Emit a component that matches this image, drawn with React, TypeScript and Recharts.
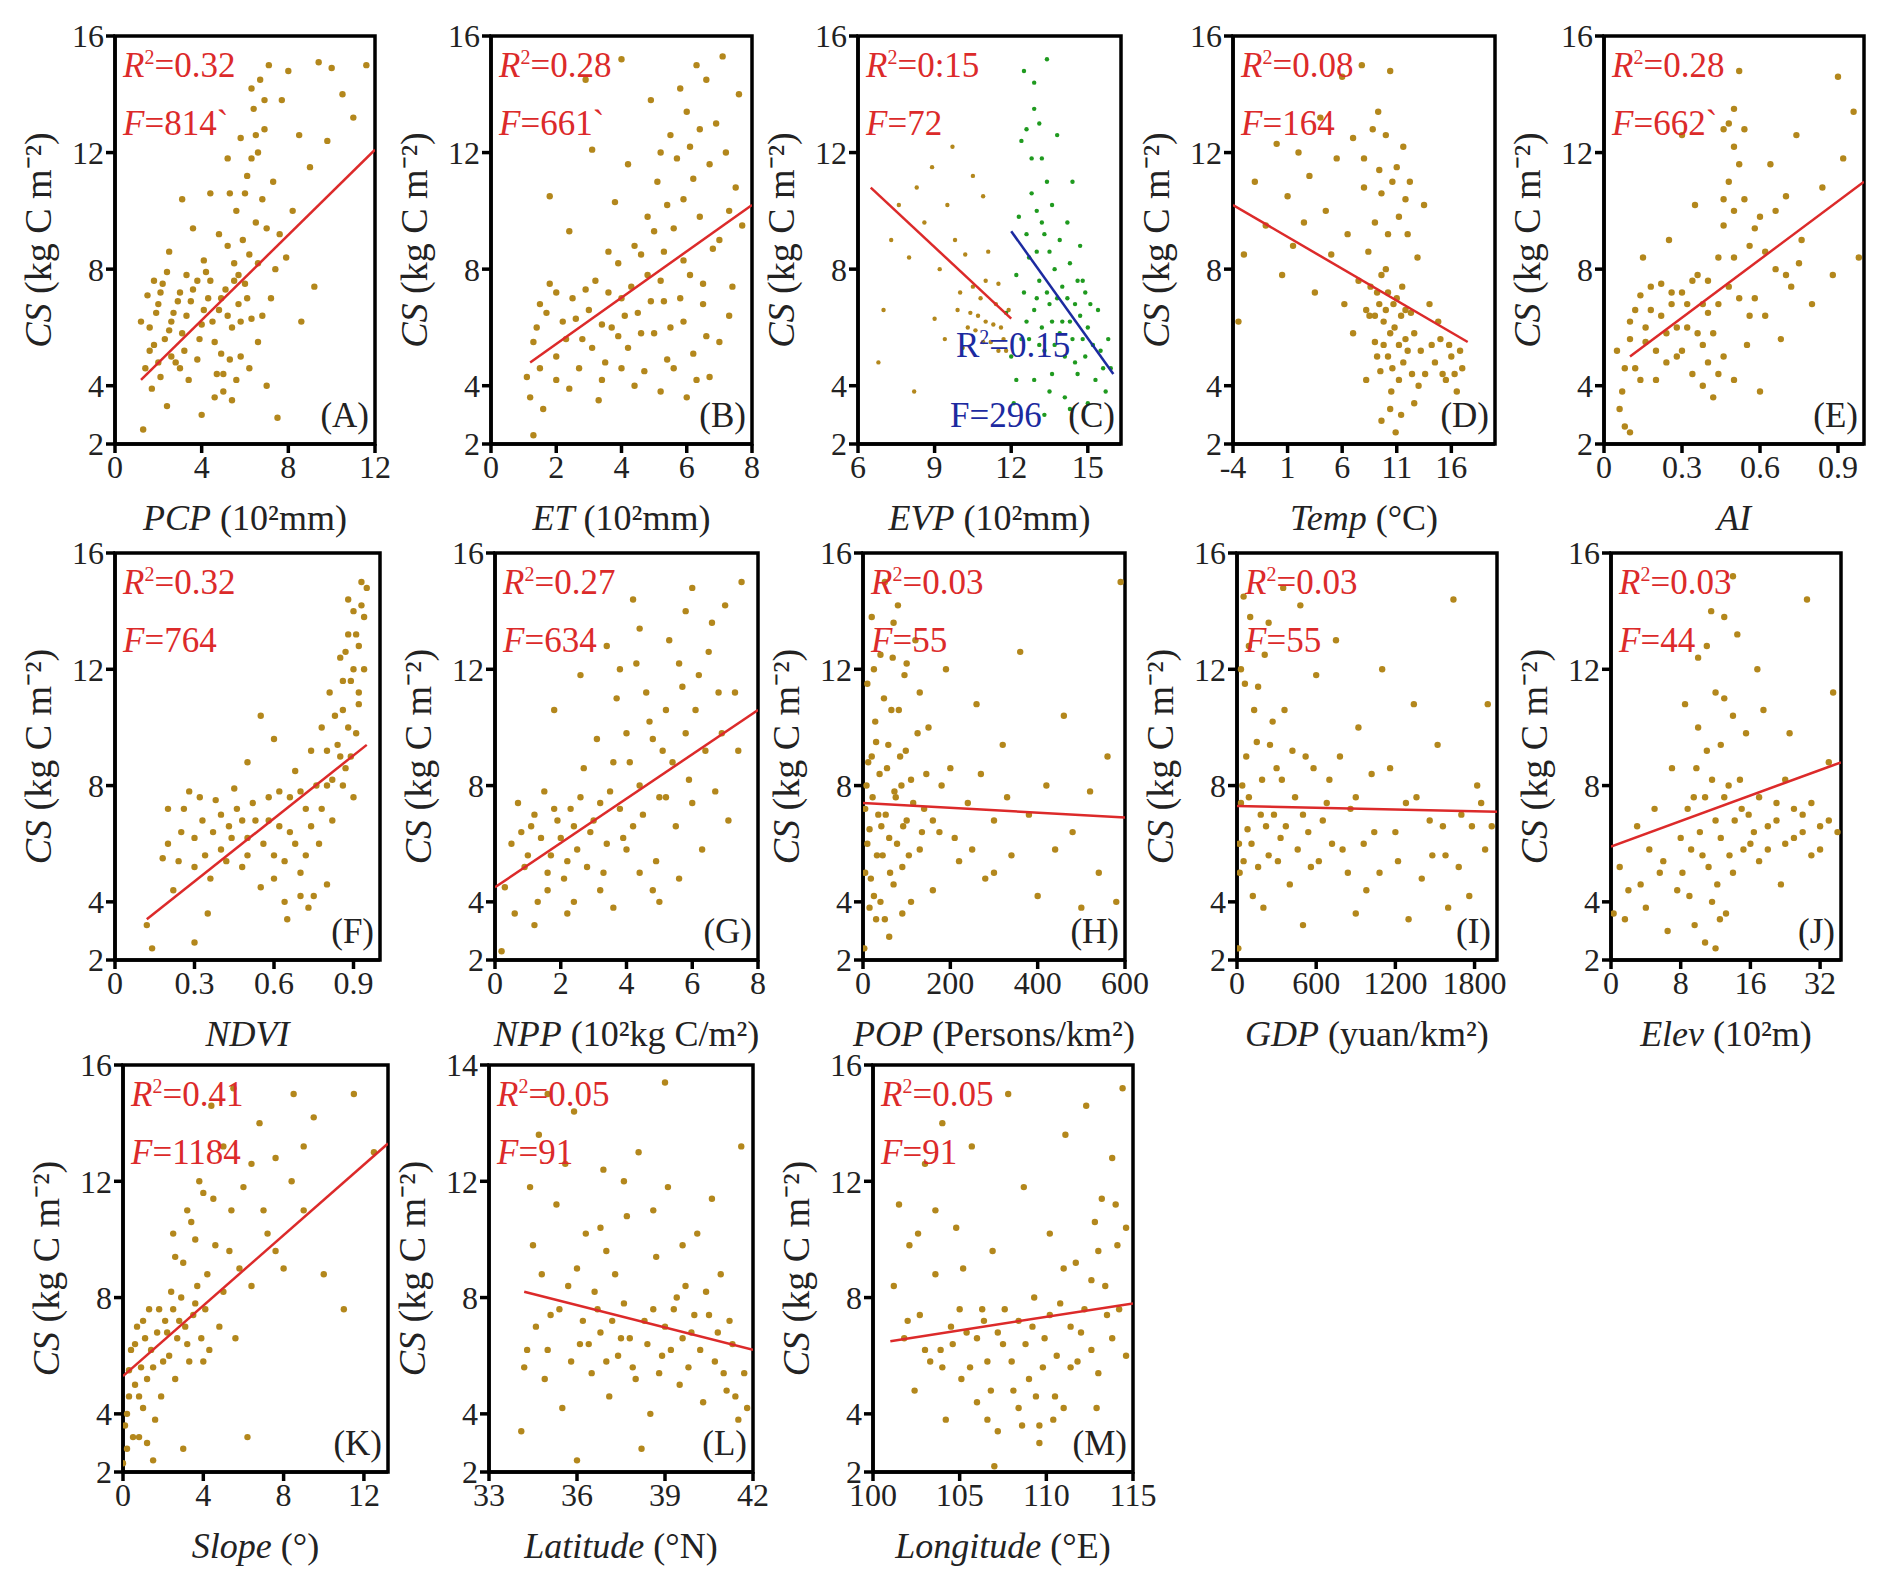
import React from "react";
import { ScatterChart, Scatter, XAxis, YAxis, ReferenceArea, Label } from "recharts";

type P = [number, number];

const dataA: P[] = [[1.2,6.2],[1.5,7.1],[1.8,5.4],[2,6.8],[2.2,7.5],[2.5,5.9],[2.7,6.5],[3,7.2],[3.2,5.2],[3.5,6.9],[3.8,7.6],[4,6.1],[4.3,7],[4.6,5.5],[4.8,6.6],[5.1,7.3],[5.4,6],[5.7,6.8],[6,7.5],[6.3,6.3],[1.4,4.6],[1.7,3.9],[2.1,4.3],[2.4,3.3],[1.3,2.5],[2.8,4.8],[3.4,4.2],[4.7,4.4],[5,3.8],[5.3,4.9],[5.6,4.2],[4.9,5.1],[6.2,4.6],[6.6,5.5],[7,4],[6.8,6.4],[7.2,7],[5.5,8.2],[5.9,9],[6.2,8.5],[6.5,9.6],[6.8,10.4],[6.1,11.2],[6.6,12],[6.9,12.8],[6.4,13.5],[6.7,14.5],[7.1,15],[7.3,11],[7.6,9.2],[7.9,8.4],[8.2,10],[8.5,12.6],[7.7,13.8],[8,14.8],[9.4,15.1],[10,14.9],[10.5,14],[11,13.2],[11.6,15],[9,11.5],[9.8,12.4],[3.1,10.4],[3.6,9.4],[4.1,8.3],[2.5,8.6],[4.4,10.6],[5.2,11.8],[5.8,12.5],[8.6,6.2],[9.2,7.4],[4,3],[7.5,2.9]];
const coreA: P[] = [[1.6,6],[1.9,6.5],[2.1,7.2],[2.3,5.6],[2.6,6.2],[2.9,6.9],[3.1,5.8],[3.3,6.4],[3.6,7.3],[3.9,5.6],[4.1,6.6],[4.4,7.6],[4.5,6.2],[4.9,7],[5.2,6.4],[5.5,7.6],[5.8,6.2],[6.1,7],[1.6,5.2],[2,4.8],[2.6,5],[3,4.6],[3.8,4.9],[4.6,3.6],[5,4.4],[5.4,3.5],[5.8,5],[5.2,8.8],[5.6,10],[6,10.6],[6.3,11.8],[6.5,12.6],[6.9,13.8],[6.3,14.2],[7,9.4],[7.4,8],[6.6,8.2],[5.7,7.8],[4.2,7.9],[3.3,7.8],[2.4,7.9],[1.8,7.6],[4.8,9.2],[5.3,10.6]];
const dataB: P[] = [[1.1,4.3],[1.3,5.5],[1.5,6.8],[1.8,7.5],[2,5],[2.2,6.2],[2.5,7],[2.8,5.6],[3,6.6],[3.2,7.6],[3.5,4.8],[3.7,6],[4,7],[4.2,5.3],[4.5,6.5],[4.8,7.8],[5,5.8],[5.3,6.9],[5.6,4.6],[5.9,6.2],[6.2,5.1],[6.5,6.8],[1.2,3.6],[1.6,3.2],[1.3,2.3],[2.4,3.9],[3.3,3.5],[4.4,4],[5.2,3.8],[6,3.6],[6.7,4.3],[7,5.5],[7.3,6.4],[4.6,8.5],[5,9.3],[5.4,10.2],[5.1,11],[5.7,11.8],[5.5,12.6],[6,13.4],[5.8,14.2],[6.3,15],[6.6,14.5],[6.9,13],[7.2,12],[7.5,10.8],[7.7,9.5],[6.4,9.8],[6.8,8.7],[7.1,15.3],[7.6,14],[4.9,13.8],[3.8,10.3],[4.2,11.6],[3.1,12.1],[1.8,10.5],[2.4,9.3],[3.6,8.6],[6.2,11.1],[5.9,8.3],[7.4,7.4],[2.9,14.5],[4,15.2]];
const coreB: P[] = [[1.4,6],[1.7,6.5],[2,7.2],[2.3,5.6],[2.6,6.3],[2.9,7.3],[3.1,5.3],[3.4,6.1],[3.6,7.2],[3.9,5.7],[4.1,6.4],[4.3,7.4],[4.6,5.8],[4.9,6.9],[5.2,7.6],[5.5,6],[5.8,7],[6.1,7.8],[1.5,4.6],[2,4.2],[2.7,4.6],[3.4,4.2],[4,4.6],[4.7,4.5],[5.4,4.9],[6.3,4.2],[6.6,5.7],[5.3,8.6],[5.6,9.4],[5.9,10.4],[6.1,12.2],[6.4,12.8],[6.7,11.6],[5.2,12],[6.5,7.5],[7,9],[7.3,10],[4.8,9.8],[4.4,8.8],[3.9,8.2]];
const dataCb: P[] = [[7,6.6],[7.3,9],[7.6,10.2],[8,8.4],[8.3,10.8],[8.6,9.6],[8.9,11.5],[9.2,8],[9.5,10.2],[9.8,9],[10,7.2],[10.2,8.5],[10.4,6.5],[10.6,5.9],[10.8,7],[11,6.2],[11.2,5.5],[11.4,6.8],[11.6,6],[11.8,5.2],[10.5,11.2],[9,6.3],[8.2,3.8],[6.8,4.8],[9.7,12.2],[10.9,10.5],[11.1,8.6],[9.4,5.6],[10.1,5.3],[11.5,7.5]];
const coreCb: P[] = [[10.3,6],[10.7,6.4],[11.3,6.1],[11.7,5.6],[10.9,5.5],[11.5,5.2],[10.5,7.4],[11,7.6],[9.9,6.6],[11.9,6.6]];
const dataCg: P[] = [[11.8,6.5],[12,5],[12.2,7.8],[12.3,9.8],[12.4,12.4],[12.5,14.8],[12.6,6.2],[12.7,8.4],[12.8,10.6],[12.9,13.5],[13,7],[13.1,5.4],[13.2,11.8],[13.3,9.2],[13.4,15.2],[13.5,6.8],[13.6,4.4],[13.7,8],[13.8,12.6],[13.9,5.8],[14,7.4],[14.1,3.6],[14.2,9.6],[14.3,6.2],[14.5,4.8],[14.6,7.6],[14.8,5.6],[15,3.4],[15.1,6.8],[15.3,4.2],[15.5,5.2],[15.7,3.8],[15.9,4.6],[12.1,3.4],[13.3,3],[14.4,11],[14.7,8.8],[12.9,4.2],[13.6,10.2],[14.9,7.2]];
const coreCg: P[] = [[12.5,7.2],[12.7,5.6],[12.9,6.6],[13,8.6],[13.1,7.6],[13.2,6],[13.3,5.2],[13.4,7.2],[13.5,8.6],[13.6,6.2],[13.7,5.4],[13.8,7],[13.9,9],[14,6.2],[14.1,5],[14.2,7],[14.3,8.2],[14.4,5.6],[14.5,6.8],[14.6,4.4],[14.7,6.4],[14.8,7.6],[14.9,5],[15,6],[15.2,5.4],[15.4,6.6],[15.6,4.6],[15.8,5.6],[13,10],[12.8,11.8],[13.1,13],[12.6,12.8],[13.4,11],[12.9,14.4],[13.2,9.6],[12.2,4.2],[13.5,3.8],[14.3,3.2],[12.4,5.6],[12.6,9.2]];
const dataD: P[] = [[-3.5,6.2],[-3,8.5],[-2,11],[-1,9.5],[0,12.3],[0.5,7.8],[1,10.5],[1.5,8.8],[2,12],[2.5,9.6],[3,11.2],[3.5,7.2],[4,13.2],[4.5,10],[5,8.5],[5.5,11.8],[6,14.6],[6.5,9.2],[7,12.5],[7.5,7.6],[8,10.8],[8.5,6.4],[9,5.5],[9.2,7.2],[9.5,4.5],[9.8,6.2],[10,8],[10.2,5],[10.5,3.8],[10.7,6.8],[11,11.5],[11.2,4.2],[11.5,7.4],[11.8,5.6],[12,9.2],[12.3,6.5],[12.6,3.4],[12.9,8.4],[13.2,5.2],[13.5,10.2],[14,6.8],[14.5,4.8],[15,5.6],[15.5,4.2],[16,5],[16.5,3.8],[17,4.6],[9.3,13.4],[10.4,14.8],[8.8,12.8],[11.6,12.2],[7.8,15],[9.6,2.8],[10.9,2.4],[8.2,4.2],[7,5.8],[6.2,6.8],[12.2,11]];
const coreD: P[] = [[8.2,6.6],[8.6,7.4],[9,6.4],[9.2,5],[9.4,6.8],[9.6,7.8],[9.8,5.4],[10,6.6],[10.2,7.2],[10.4,5.8],[10.6,4.6],[10.8,6],[11,7],[11.2,5.4],[11.4,6.4],[11.6,4.8],[11.8,6.6],[12,5.2],[12.4,4.4],[12.6,5.8],[8.4,8.6],[9,9.6],[9.6,10.6],[10.2,9.2],[10.6,11],[11.2,9.8],[11.8,10.4],[10,12.6],[9.4,11.4],[8,11.8],[15.2,4.4],[15.8,5.4],[16.3,4.4],[16.8,5.2],[14.8,6.2],[14.2,5.4],[13.6,4.4],[13,4],[10.4,3.2],[11.4,3]];
const dataE: P[] = [[0.05,5.2],[0.07,3.8],[0.08,2.6],[0.1,6.2],[0.12,4.6],[0.14,7.1],[0.16,5.5],[0.18,6.6],[0.2,4.2],[0.22,7.5],[0.24,5.8],[0.26,6.8],[0.28,5],[0.3,7.2],[0.32,6],[0.34,4.4],[0.36,7.8],[0.38,5.4],[0.4,6.5],[0.42,3.6],[0.44,8.4],[0.46,9.5],[0.48,11],[0.5,12.2],[0.5,13.5],[0.52,14.8],[0.54,10.4],[0.46,12.8],[0.56,8.8],[0.58,7],[0.6,9.8],[0.62,6.4],[0.64,11.6],[0.66,8],[0.68,5.6],[0.7,10.5],[0.72,7.4],[0.74,12.6],[0.76,9],[0.8,6.8],[0.84,10.8],[0.88,7.8],[0.92,11.8],[0.96,13.4],[0.98,8.4],[0.9,14.6],[0.35,10.2],[0.3,12.6],[0.25,9],[0.15,8.4],[0.4,4.8],[0.5,4.2],[0.55,5.4],[0.6,3.8]];
const coreE: P[] = [[0.08,4.6],[0.1,5.6],[0.12,6.6],[0.14,4.2],[0.16,6],[0.18,7.4],[0.2,5.2],[0.22,6.4],[0.24,4.8],[0.26,7.2],[0.28,6],[0.3,5.2],[0.32,6.8],[0.34,7.6],[0.36,5.8],[0.38,6.8],[0.4,7.6],[0.42,5.8],[0.44,6.8],[0.46,5],[0.48,7.4],[0.5,8.4],[0.5,10],[0.52,11.6],[0.48,13],[0.54,12.8],[0.46,10.4],[0.52,7],[0.44,4.4],[0.38,4],[0.56,6.4],[0.58,9.4],[0.62,8.6],[0.66,10],[0.7,7.8],[0.75,8.2],[0.06,3.2],[0.1,2.4]];
const dataF: P[] = [[0.12,3.2],[0.14,2.4],[0.18,5.5],[0.2,7.2],[0.22,4.4],[0.25,6.4],[0.28,7.8],[0.3,5.2],[0.33,6.8],[0.36,4.8],[0.38,7.5],[0.4,5.8],[0.43,6.6],[0.45,7.9],[0.48,5.2],[0.5,6.2],[0.52,7.4],[0.55,4.5],[0.58,6.8],[0.6,5.6],[0.62,7.8],[0.64,4],[0.66,6.4],[0.68,8.5],[0.7,5],[0.72,7.2],[0.74,9.2],[0.75,4.2],[0.77,6],[0.78,10],[0.8,8],[0.81,11.2],[0.82,6.8],[0.84,9.4],[0.85,12.4],[0.86,10.6],[0.87,8.6],[0.88,13.2],[0.89,11.6],[0.9,14],[0.91,9.8],[0.92,12.8],[0.93,15],[0.94,13.8],[0.92,10.8],[0.9,7.6],[0.6,9.6],[0.5,8.8],[0.35,3.6],[0.65,3.4],[0.55,10.4],[0.8,4.6],[0.3,2.6]];
const coreF: P[] = [[0.2,6],[0.24,5.4],[0.26,7.2],[0.3,6.2],[0.32,7.6],[0.34,5.6],[0.37,6.4],[0.4,7],[0.42,5.4],[0.44,6.2],[0.46,7.2],[0.48,6.8],[0.5,5.6],[0.53,6.8],[0.56,6],[0.58,7.6],[0.6,4.8],[0.62,6.6],[0.64,5.4],[0.66,7.6],[0.68,6],[0.7,7.8],[0.72,5.6],[0.74,6.6],[0.76,8],[0.78,7.2],[0.8,9.2],[0.82,8.2],[0.83,10.4],[0.85,9],[0.86,11.6],[0.87,12.6],[0.88,10],[0.89,9],[0.9,12],[0.91,13.2],[0.92,11.2],[0.93,14.2],[0.94,12],[0.95,14.8],[0.88,14.4],[0.86,8],[0.7,4.2],[0.73,3.8]];
const dataG: P[] = [[0.2,2.3],[0.3,4.5],[0.5,6],[0.7,7.4],[0.9,5.2],[1.1,6.6],[1.3,4],[1.5,7.8],[1.7,5.6],[1.9,6.8],[2.1,4.8],[2.3,7.2],[2.5,5.8],[2.7,8.6],[2.9,6.4],[3.1,9.6],[3.3,5],[3.5,7.8],[3.7,11],[3.9,6.2],[4.1,8.8],[4.3,12.2],[4.5,7],[4.7,10.2],[4.9,5.4],[5.1,9.2],[5.3,13],[5.5,6.6],[5.7,11.4],[5.9,8.2],[6.1,10.6],[6.3,5.8],[6.5,12.6],[6.7,7.8],[6.9,9.8],[7.1,6.8],[7.3,11.2],[7.5,15],[7,14.2],[6,14.8],[4.2,14.4],[3.4,12.8],[2.6,11.8],[1.8,10.6],[1.2,3.2],[2.2,3.6],[3.6,3.8],[4.8,4.4],[5.6,4.8],[0.6,3.6],[4,5.8],[5.2,7.6]];
const coreG: P[] = [[0.8,6.4],[1,5.6],[1.2,7],[1.4,6.2],[1.6,5],[1.8,7.2],[2,6.2],[2.2,5.4],[2.4,6.6],[2.6,7.6],[2.8,5.2],[3,6.8],[3.2,7.4],[3.4,6],[3.6,8.8],[3.8,7.2],[4,9.8],[4.2,6.6],[4.4,8],[4.6,11.2],[4.8,9.6],[5,7.6],[5.2,10.6],[5.4,8.8],[5.6,12.2],[5.8,9.8],[6,7.4],[6.2,11.8],[6.4,9.2],[6.6,13.6],[3.2,4.4],[2.4,4],[1.6,4.4],[4.4,5],[5,4],[3.8,12],[4.4,13.4],[5.8,14],[6.8,11.2],[7.4,9.2]];
const dataH: P[] = [[3,2.4],[5,5],[8,8],[10,11.5],[15,6.5],[20,13.8],[25,4.2],[30,9.5],[35,7],[40,12.5],[45,5.6],[50,15],[55,8.6],[60,6.2],[65,10.6],[70,4.6],[75,7.6],[80,14.2],[85,9],[90,5.2],[95,11.8],[100,6.8],[110,8.2],[120,13],[130,5.8],[140,7.2],[150,10],[160,4.4],[175,6.4],[190,12],[200,8.6],[220,5.4],[240,7.4],[260,10.8],[280,4.8],[300,6.8],[320,9.4],[340,5.6],[360,12.6],[380,7],[400,4.2],[420,8],[440,5.8],[460,10.4],[480,6.4],[500,3.8],[520,7.8],[540,5],[560,9],[580,4],[590,15],[30,3.4],[60,2.8],[130,11.2],[110,4]];
const coreH: P[] = [[5,7.2],[10,6],[12,8.8],[18,4.8],[22,7.6],[28,10.2],[32,5.6],[38,8.4],[42,6.6],[48,11],[52,7],[58,9.4],[62,5],[68,12.4],[72,7.8],[78,6],[82,10.6],[88,8],[92,6.6],[98,9.2],[105,5.6],[115,7.4],[125,9.8],[135,6.4],[145,8.4],[20,9],[40,4],[70,13.6],[100,12.2],[25,12],[15,3.8],[50,3.4],[90,3.6],[160,6.8],[180,8],[210,6.2],[250,5.8],[270,8.4],[300,5],[330,7.6]];
const dataI: P[] = [[10,2.4],[20,5],[40,8],[60,11.5],[80,6.5],[100,13.8],[120,4.2],[150,9.5],[180,7],[210,12.5],[240,5.6],[270,10.2],[300,8.6],[330,6.2],[360,10.6],[400,4.6],[440,7.6],[480,14.2],[520,9],[560,5.2],[600,11.8],[650,6.8],[700,8.2],[750,13],[800,5.8],[860,7.2],[920,10],[980,4.4],[1040,6.4],[1100,12],[1160,8.6],[1220,5.4],[1280,7.4],[1340,10.8],[1400,4.8],[1460,6.8],[1520,9.4],[1580,5.6],[1640,14.4],[1700,7],[1760,4.2],[1820,8],[1880,5.8],[1930,6.6],[1900,10.8],[1600,3.8],[1300,3.4],[900,3.6],[500,3.2],[200,3.8],[50,14.5],[350,14.8]];
const coreI: P[] = [[15,6],[30,7.4],[50,5.4],[70,9],[90,7.6],[110,6],[130,10.6],[160,5.2],[190,8.2],[220,6.6],[250,9.4],[280,7],[310,5.4],[340,8.2],[370,6.6],[420,9.2],[460,5.8],[500,7],[540,6.4],[580,8.6],[620,5.4],[680,7.4],[720,6],[780,9],[840,5],[900,7.6],[960,6],[1020,8.4],[1080,5],[1200,6.4],[1360,7.6],[1480,5.6],[1560,6.6],[1680,5.2],[1780,6.6],[1850,7.4],[30,12],[90,12.8],[160,11.4],[240,13.6]];
const dataJ: P[] = [[0.3,3.6],[1,5.2],[2,4.4],[3,6.6],[4,3.8],[5,7.2],[6,5.4],[7,8.6],[8,6.2],[8.5,10.8],[9,4.2],[9.5,7.6],[10,12.4],[10.5,5.6],[11,9.2],[11.5,14],[12,6.8],[12.5,3.4],[13,11],[13.5,8],[14,5],[14.5,13.2],[15,7.2],[15.5,9.8],[16,6],[17,7.6],[18,5.8],[19,6.8],[20,8.2],[21,6.2],[22,7],[23,5.6],[24,6.6],[25,8.8],[26,6.4],[25.5,11.2],[22.5,14.4],[17.5,10.6],[19.5,4.6],[12,2.4],[14,15.2],[10.8,2.6],[6.5,3],[16.8,12],[20.5,9.8]];
const coreJ: P[] = [[8.2,5],[8.8,7.2],[9.2,5.8],[9.8,8.6],[10.2,6.4],[10.8,7.6],[11.2,5.2],[11.6,8.2],[12.2,4.6],[12.6,6.2],[13,7.6],[13.6,5.6],[14.2,6.8],[14.8,8.2],[15.2,5.8],[15.8,7],[16.4,6.4],[17,5.4],[18,6.6],[19,7.4],[20,6],[21,7.2],[22,6.4],[23,7.4],[24,5.8],[25,6.8],[10,10],[11,12.8],[12,11.2],[13,13.8],[12.6,9.4],[14,10.4],[11.6,4],[13.2,3.6],[9.6,3.2],[7.6,4.4],[5.6,5],[4.4,5.8],[3.4,4.6],[1.6,3.4]];
const dataK: P[] = [[0,2.3],[0.2,4],[0.3,5.5],[0.5,3.2],[0.6,6.4],[0.8,4.6],[1,7.2],[1.2,5.2],[1.4,6.2],[1.6,3.8],[1.8,7.6],[2,5.8],[2.2,6.8],[2.4,8.2],[2.6,5.2],[2.8,7.2],[3,9.2],[3.2,6.4],[3.4,10.6],[3.6,7.8],[3.8,12],[4,5.8],[4.2,8.8],[4.5,11.4],[4.8,7],[5,13.2],[5.3,9.6],[5.6,6.6],[6,11.8],[6.4,8.4],[6.8,14],[7.2,10.2],[7.6,12.8],[8,9],[8.5,15],[9,11],[9.5,14.2],[10,8.8],[11,7.6],[11.5,15],[12.5,13],[6.2,3.2],[1.5,2.4],[3,2.8],[5.5,15.2],[2.5,10.2],[4.4,14.6]];
const coreK: P[] = [[0.1,3.6],[0.3,4.6],[0.4,6.2],[0.6,5],[0.7,7],[0.9,5.6],[1,4.2],[1.1,6.6],[1.3,7.6],[1.5,5.6],[1.7,6.8],[1.9,4.6],[2.1,7.2],[2.3,6],[2.5,7.6],[2.7,6.6],[2.9,8],[3.1,7],[3.3,5.8],[3.5,7.4],[3.7,8.4],[3.9,6.6],[4.1,7.6],[4.3,6.2],[2.6,9.4],[3.2,11],[3.6,10],[4,11.6],[4.6,9.8],[5,8.2],[5.4,11],[5.8,9],[6.4,12.6],[7,11],[7.6,9.6],[8.4,12],[9,13.2],[0.8,3.2],[1.2,3],[0.2,2.8]];
const dataL: P[] = [[34.1,3.4],[34.3,6.2],[34.5,9.8],[34.7,13.6],[34.9,5.2],[35.1,7.4],[35.3,11.2],[35.5,4.2],[35.7,8.4],[35.9,14.4],[36.1,6.4],[36.3,10.2],[36.5,5.4],[36.7,7.6],[36.9,12.4],[37.1,4.6],[37.3,8.8],[37.5,6.6],[37.7,10.8],[37.9,5.6],[38.1,13],[38.3,7.2],[38.5,4],[38.7,9.4],[38.9,6],[39.1,11.8],[39.3,7.6],[39.5,5],[39.7,8.4],[39.9,6.8],[40.1,10.2],[40.3,4.4],[40.5,7.4],[40.7,5.8],[40.9,8.8],[41.1,4.8],[41.3,6.4],[41.5,3.8],[41.7,5.4],[41.6,13.2],[40.6,11.4],[36,2.4],[38.2,2.8],[39,15.4],[35,15]];
const coreL: P[] = [[34.2,5.6],[34.6,7],[35,6.2],[35.4,7.6],[35.8,5.8],[36.2,7.2],[36.4,6.4],[36.6,8.2],[36.8,6.8],[37,5.8],[37.2,7.2],[37.4,6],[37.6,7.8],[37.8,6.6],[38,5.2],[38.4,6.4],[38.6,7.6],[38.8,5.4],[39,7],[39.2,6.2],[39.4,8],[39.6,6.6],[39.8,5.6],[40,7.4],[40.2,6.2],[40.4,8.2],[40.8,6.8],[41,5.4],[41.2,7.2],[41.4,4.6],[41.8,4.2],[34.4,11.8],[35.6,12.6],[36.8,10.4],[37.6,12],[38.6,11],[34.8,8.8],[36,9],[37,9.6],[39.6,9.8]];
const dataM: P[] = [[101.2,8.4],[101.5,11.2],[101.8,6.6],[102.1,9.8],[102.4,4.8],[102.7,7.4],[103,12.6],[103.3,5.8],[103.6,8.8],[103.9,6.2],[104.2,3.8],[104.5,7],[104.8,10.4],[105.1,5.2],[105.4,6.8],[105.7,13.2],[106,4.4],[106.3,7.6],[106.6,5.8],[106.9,9.6],[107.2,3.4],[107.5,6.4],[107.8,15],[108.1,4.8],[108.4,7.2],[108.7,11.8],[109,5.2],[109.3,8],[109.6,3.6],[109.9,6.6],[110.2,10.2],[110.5,4.6],[110.8,7.8],[111.1,13.6],[111.4,5.6],[111.7,9.2],[112,6.8],[112.3,14.6],[112.6,8.6],[112.9,4.2],[113.2,11.4],[113.5,7.4],[113.8,12.8],[114.1,9.8],[114.4,15.2],[114.6,6],[107,2.2],[104,14]];
const coreM: P[] = [[102,7.2],[103,6.2],[104,5.6],[104.6,6.4],[105,7.6],[105.6,5.6],[106,6.6],[106.4,7.2],[106.8,4.8],[107.2,6.8],[107.6,7.6],[108,5.8],[108.4,4.2],[108.8,6.4],[109.2,7],[109.4,4.6],[109.8,5.6],[110.2,7.4],[110.6,6],[111,4.2],[111.4,7],[111.8,5.8],[112.2,7.6],[112.6,6.2],[113,5.4],[113.4,8.4],[113.8,6.6],[114.2,7.6],[114.6,10.4],[108.6,3.6],[109.6,3],[110.4,3.8],[106.6,3.8],[102.6,10.2],[103.6,11],[113,9.6],[114,11.2],[112.8,10.6],[111,9],[105.2,9]];

// regression line endpoints
const fitA: P[] = [[1.2,4.2],[12,12.1]];
const fitB: P[] = [[1.2,4.8],[8,10.2]];
const fitCr: P[] = [[6.5,10.8],[12,6.3]];
const fitCb: P[] = [[12,9.3],[16,4.4]];
const fitD: P[] = [[-4,10.2],[17.5,5.5]];
const fitE: P[] = [[0.1,5.0],[1.0,11.0]];
const fitF: P[] = [[0.12,3.4],[0.95,9.4]];
const fitG: P[] = [[0,4.5],[8,10.6]];
const fitH: P[] = [[0,7.4],[600,6.9]];
const fitI: P[] = [[0,7.3],[1970,7.1]];
const fitJ: P[] = [[0,5.9],[26.4,8.8]];
const fitK: P[] = [[0,5.3],[13.2,13.3]];
const fitL: P[] = [[34.2,8.2],[42,6.2]];
const fitM: P[] = [[101,6.5],[115,7.8]];

const yTicks = [2, 4, 8, 12, 16];

const DOT = "#b3871c";
const RED = "#dc2a2a";
const FONT = "'Liberation Serif', serif";

type Panel = {
  id: string; left: number; top: number; w: number; h: number;
  data: P[]; fit: P[]; domain: [number, number]; ticks: number[];
  xName: string; xUnit: string; r2: string; f: string;
  tickFmt?: (v: number) => string; yFmt?: (v: number) => string;
  green?: P[]; fit2?: P[];
};

const panels: Panel[] = [
  { id: "A", left: 115, top: 36, w: 260, h: 408, data: [...dataA, ...coreA], fit: fitA, domain: [0, 12], ticks: [0, 4, 8, 12], xName: "PCP", xUnit: " (10²mm)", r2: "0.32", f: "814`" },
  { id: "B", left: 491, top: 36, w: 261, h: 408, data: [...dataB, ...coreB], fit: fitB, domain: [0, 8], ticks: [0, 2, 4, 6, 8], xName: "ET", xUnit: " (10²mm)", r2: "0.28", f: "661`" },
  { id: "C", left: 858, top: 36, w: 263, h: 408, data: [...dataCb, ...coreCb], fit: fitCr, domain: [6, 16.3], ticks: [6, 9, 12, 15], xName: "EVP", xUnit: " (10²mm)", r2: "0:15", f: "72", green: [...dataCg, ...coreCg], fit2: fitCb },
  { id: "D", left: 1233, top: 36, w: 262, h: 408, data: [...dataD, ...coreD], fit: fitD, domain: [-4, 20], ticks: [-4, 1, 6, 11, 16], xName: "Temp", xUnit: " (°C)", r2: "0.08", f: "164" },
  { id: "E", left: 1604, top: 36, w: 260, h: 408, data: [...dataE, ...coreE], fit: fitE, domain: [0, 1], ticks: [0, 0.3, 0.6, 0.9], xName: "AI", xUnit: "", r2: "0.28", f: "662`" },
  { id: "F", left: 115, top: 553, w: 265, h: 407, data: [...dataF, ...coreF], fit: fitF, domain: [0, 1], ticks: [0, 0.3, 0.6, 0.9], xName: "NDVI", xUnit: "", r2: "0.32", f: "764" },
  { id: "G", left: 495, top: 553, w: 263, h: 407, data: [...dataG, ...coreG], fit: fitG, domain: [0, 8], ticks: [0, 2, 4, 6, 8], xName: "NPP", xUnit: " (10²kg C/m²)", r2: "0.27", f: "634" },
  { id: "H", left: 863, top: 553, w: 262, h: 407, data: [...dataH, ...coreH], fit: fitH, domain: [0, 600], ticks: [0, 200, 400, 600], xName: "POP", xUnit: " (Persons/km²)", r2: "0.03", f: "55" },
  { id: "I", left: 1237, top: 553, w: 260, h: 407, data: [...dataI, ...coreI], fit: fitI, domain: [0, 1970], ticks: [0, 600, 1200, 1800], xName: "GDP", xUnit: " (yuan/km²)", r2: "0.03", f: "55" },
  { id: "J", left: 1611, top: 553, w: 230, h: 407, data: [...dataJ, ...coreJ], fit: fitJ, domain: [0, 26.4], ticks: [0, 8, 16, 24], xName: "Elev", xUnit: "  (10²m)", r2: "0.03", f: "44", tickFmt: (v) => (v === 24 ? "32" : String(v)) },
  { id: "K", left: 123, top: 1065, w: 265, h: 407, data: [...dataK, ...coreK], fit: fitK, domain: [0, 13.2], ticks: [0, 4, 8, 12], xName: "Slope", xUnit: " (°)", r2: "0.41", f: "1184" },
  { id: "L", left: 489, top: 1065, w: 264, h: 407, data: [...dataL, ...coreL], fit: fitL, domain: [33, 42], ticks: [33, 36, 39, 42], xName: "Latitude", xUnit: " (°N)", r2: "0.05", f: "91", yFmt: (v) => (v === 16 ? "14" : String(v)) },
  { id: "M", left: 873, top: 1065, w: 260, h: 407, data: [...dataM, ...coreM], fit: fitM, domain: [100, 115], ticks: [100, 105, 110, 115], xName: "Longitude", xUnit: " (°E)", r2: "0.05", f: "91" },
];

const toXY = (d: P[]) => d.map(([x, y]) => ({ x, y }));
const noShape = () => <g />;

const ML = 100, MT = 24, MR = 24, XH = 110;
const TXT: React.CSSProperties = { position: "absolute", fontSize: 35, lineHeight: "35px", whiteSpace: "nowrap" };

function PanelChart({ p }: { p: Panel }) {
  const W = ML + p.w + MR;
  const H = MT + p.h + XH;
  const dotR = p.green ? 2.2 : 3.2;
  return (
    <div style={{ position: "absolute", left: p.left - ML, top: p.top - MT, width: W, height: H, fontFamily: FONT }}>
      <ScatterChart width={W} height={H} margin={{ top: MT, right: MR, left: 0, bottom: 0 }} style={{ fontFamily: FONT }}>
        <XAxis type="number" dataKey="x" domain={p.domain} ticks={p.ticks} allowDataOverflow interval={0}
          height={XH} tickSize={9} tickFormatter={p.tickFmt}
          axisLine={{ stroke: "#000", strokeWidth: 3.5 }} tickLine={{ stroke: "#000", strokeWidth: 3.5 }}
          tick={{ fill: "#222", fontSize: 32, fontFamily: FONT }}
          label={{ content: () => (
            <text x={ML + p.w / 2} y={MT + p.h + 86} textAnchor="middle" fontFamily={FONT} fontSize={36} fill="#222">
              <tspan fontStyle="italic">{p.xName}</tspan>{p.xUnit}
            </text>
          ) }} />
        <YAxis type="number" dataKey="y" domain={[2, 16]} ticks={yTicks} allowDataOverflow interval={0}
          width={ML} tickSize={9} tickFormatter={p.yFmt}
          axisLine={{ stroke: "#000", strokeWidth: 3.5 }} tickLine={{ stroke: "#000", strokeWidth: 3.5 }}
          tick={{ fill: "#222", fontSize: 32, fontFamily: FONT }}>
          <Label content={() => (
            <text transform={`translate(36, ${MT + p.h / 2}) rotate(-90)`} textAnchor="middle" fontFamily={FONT} fontSize={38} fill="#222">
              <tspan fontStyle="italic">CS</tspan> (kg C m⁻²)
            </text>
          )} />
        </YAxis>
        <ReferenceArea x1={p.domain[0]} x2={p.domain[1]} y1={2} y2={16} fill="none" stroke="#000" strokeWidth={3.5} ifOverflow="visible" />
        <Scatter data={toXY(p.data)} isAnimationActive={false}
          shape={(s: any) => <circle cx={s.cx} cy={s.cy} r={dotR} fill={DOT} />} />
        {p.green && (
          <Scatter data={toXY(p.green)} isAnimationActive={false}
            shape={(s: any) => <circle cx={s.cx} cy={s.cy} r={2.2} fill="#1f9a1f" />} />
        )}
        <Scatter data={toXY(p.fit)} isAnimationActive={false} line={{ stroke: RED, strokeWidth: 2.5 }} shape={noShape} />
        {p.fit2 && (
          <Scatter data={toXY(p.fit2)} isAnimationActive={false} line={{ stroke: "#1c2aa0", strokeWidth: 2.5 }} shape={noShape} />
        )}
      </ScatterChart>
      <div style={{ ...TXT, left: ML + 8, top: MT + 4, color: RED }}>
        <i>R</i><sup style={{ fontSize: 20 }}>2</sup>={p.r2}
      </div>
      <div style={{ ...TXT, left: ML + 8, top: MT + 70, color: RED }}>
        <i>F</i>={p.f}
      </div>
      {p.green && (
        <>
          <div style={{ ...TXT, left: ML + 98, top: MT + 284, color: "#1c2aa0" }}>
            R<sup style={{ fontSize: 20 }}>2</sup>=0.15
          </div>
          <div style={{ ...TXT, left: ML + 92, top: MT + p.h - 46, color: "#1c2aa0" }}>
            F=296
          </div>
        </>
      )}
      <div style={{ ...TXT, right: MR + 6, top: MT + p.h - 46, color: "#222" }}>
        ({p.id})
      </div>
    </div>
  );
}

export default function App() {
  return (
    <div style={{ position: "absolute", left: 0, top: 0, width: 1893, height: 1584, background: "#fff" }}>
      {panels.map((p) => <PanelChart key={p.id} p={p} />)}
    </div>
  );
}
